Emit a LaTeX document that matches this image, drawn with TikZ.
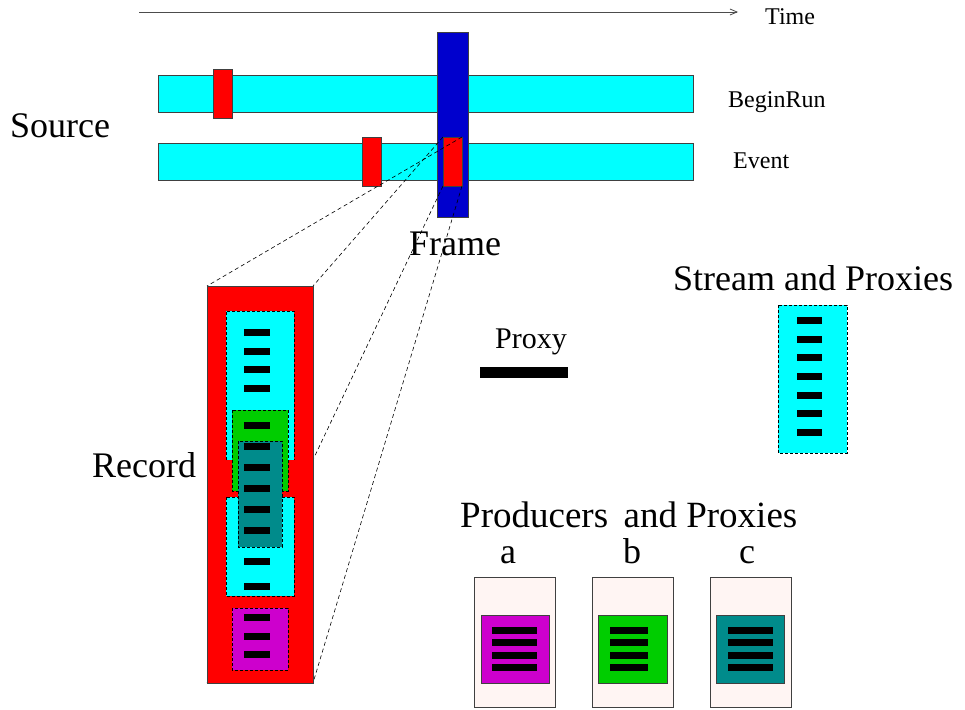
\documentclass[tikz,border=0pt]{standalone}
\usepackage{fontspec}
\setmainfont{Liberation Serif}
\usetikzlibrary{arrows.meta}
\definecolor{cyn}{HTML}{00FFFF}
\definecolor{rd}{HTML}{FF0000}
\definecolor{blu}{HTML}{0000CD}
\definecolor{grn}{HTML}{00CD00}
\definecolor{tl}{HTML}{008B8B}
\definecolor{mag}{HTML}{CD00CD}
\definecolor{pnk}{HTML}{FFF5F3}
\newcommand\dbar[3]{\fill[black] (#1,#3-3.5) rectangle (#2,#3+3.5);}
\begin{document}
\begin{tikzpicture}[x=1pt,y=-1pt,
  solidbox/.style={draw=black!75, line width=0.8pt},
  dashbox/.style={draw=black, line width=0.6pt, dash pattern=on 3pt off 2pt},
  proj/.style={draw=black, line width=0.6pt, dash pattern=on 4pt off 3pt},
  small/.style={anchor=base west, inner sep=0pt, font=\fontsize{24}{28}\selectfont},
  big/.style={anchor=base west, inner sep=0pt, font=\fontsize{36}{40}\selectfont},
  bigc/.style={anchor=base, inner sep=0pt, font=\fontsize{36}{40}\selectfont}]
\useasboundingbox (0,0) rectangle (965,709);

% time axis
\coordinate (t0) at (139,12);
\coordinate (t1) at (738,12);
\draw[black!70, line width=0.8pt, -{Straight Barb[length=7pt,width=6pt]}] (t0) -- (t1);
\node[small] (time) at (765,25) {Time};

% source streams
\fill[cyn] (158,75) rectangle (693,112);
\draw[solidbox] (158,75) rectangle (693,112);
\fill[cyn] (158,143) rectangle (693,180);
\draw[solidbox] (158,143) rectangle (693,180);
\node[small] (beginrun) at (728,107) {BeginRun};
\node[small] (event) at (733,168) {Event};
\node[big] (source) at (10,137) {Source};

% records on streams
\draw[solidbox, fill=rd] (213,69) rectangle (232,118);
\draw[solidbox, fill=rd] (362,137) rectangle (381,186);

% frame
\draw[solidbox, fill=blu] (437,32) rectangle (468,217);
\draw[solidbox, fill=rd] (443,137) rectangle (462,186);
\node[big] (frame) at (409,255) {Frame};

% projection lines
\coordinate (fr-tl) at (443,137);
\coordinate (fr-tr) at (462,137);
\coordinate (fr-bl) at (443,186);
\coordinate (fr-br) at (462,186);
\coordinate (rec-tl) at (207,286);
\coordinate (rec-tr) at (313,286);
\coordinate (rec-bl) at (207,683);
\coordinate (rec-br) at (313,683);
\draw[proj] (fr-tr) -- (rec-tl);
\draw[proj] (fr-tl) -- (rec-tr);
\draw[proj] (fr-bl) -- (rec-bl);
\draw[proj] (fr-br) -- (rec-br);

% record
\draw[solidbox, fill=rd] (rec-tl) rectangle (rec-br);
\fill[cyn] (226,311) rectangle (294,460);
\draw[dashbox] (226,460) -- (226,311) -- (294,311) -- (294,460);
\fill[cyn] (226,497) rectangle (294,596);
\draw[dashbox] (226,497) rectangle (294,596);
\draw[dashbox, fill=grn] (232,410) rectangle (288,491);
\draw[dashbox, fill=tl] (238,441) rectangle (282,547);
\draw[dashbox, fill=mag] (232,608) rectangle (288,670);
\foreach \y in {332.3,351,369.3,388.3,425.3,446.7,467.5,488.3,509.2,530,561.7,586.7,617.7,636,654.3}
  {\dbar{244}{270}{\y}}
\node[big] (record) at (92,477) {Record};

% proxy
\fill[black] (480,367) rectangle (568,378);
\node[anchor=base west, inner sep=0pt, font=\fontsize{30}{34}\selectfont] (proxy) at (495,348) {Proxy};

% stream and proxies
\node[big] (stream) at (673,290) {Stream and Proxies};
\draw[dashbox, fill=cyn] (778,305) rectangle (847,453);
\foreach \y in {320,339,357,376,395,413,432}
  {\dbar{797}{822}{\y}}

% producers
\node[big, font=\fontsize{37}{40}\selectfont] (prod) at (460,527) {Producers\hspace{0.42em}and Proxies};
\node[bigc] (la) at (508,563) {a};
\node[bigc] (lb) at (632,563) {b};
\node[bigc] (lc) at (747,563) {c};
\draw[solidbox, fill=pnk] (474,577) rectangle (555,707);
\draw[solidbox, fill=pnk] (592,577) rectangle (673,707);
\draw[solidbox, fill=pnk] (710,577) rectangle (791,707);
\draw[solidbox, fill=mag] (481,615) rectangle (549,683);
\draw[solidbox, fill=grn] (598,615) rectangle (667,683);
\draw[solidbox, fill=tl] (716,615) rectangle (784,683);
\foreach \y in {630,642.5,655,667.5}
  {\dbar{492}{537}{\y}\dbar{610}{648}{\y}\dbar{728}{773}{\y}}
\end{tikzpicture}
\end{document}
